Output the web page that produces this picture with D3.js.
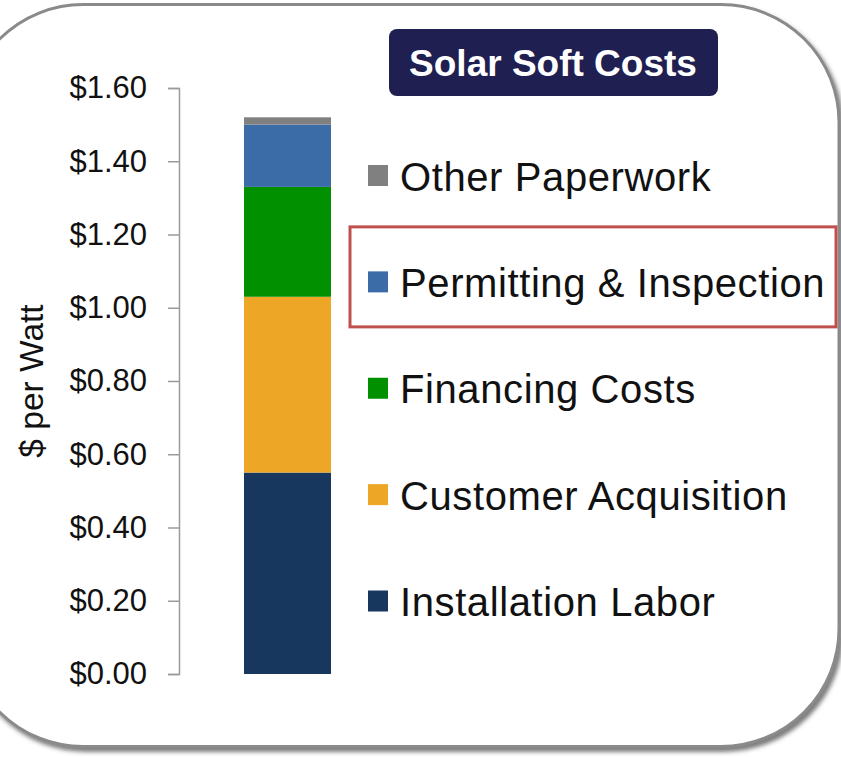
<!DOCTYPE html>
<html>
<head>
<meta charset="utf-8">
<script src="https://cdn.jsdelivr.net/npm/d3@7"></script>
<style>
  body { margin: 0; background: #fff; }
  svg { display: block; font-family: "Liberation Sans", Arial, sans-serif; }
  .axis .domain, .axis line { stroke: #9a9a9a; stroke-width: 1.5; }
  .axis text { font-size: 31px; fill: #111; }
</style>
</head>
<body>
<script>
// chart data
var categories = ["Installation Labor", "Customer Acquisition", "Financing Costs", "Permitting & Inspection", "Other Paperwork"];
var values = [0.55, 0.48, 0.30, 0.17, 0.02];
var colors = ["#18375e", "#eea626", "#009000", "#3b6ca8", "#808080"];
var tickValues = [0, 0.2, 0.4, 0.6, 0.8, 1.0, 1.2, 1.4, 1.6];
var title = "Solar Soft Costs";
var yTitle = "$ per Watt";
var highlighted = "Permitting & Inspection";

var w = 841, h = 757;

var svg = d3.select("body").append("svg")
    .attr("width", w)
    .attr("height", h);

// drop shadow for the rounded frame
var defs = svg.append("defs");
defs.append("filter")
    .attr("id", "shadow")
    .attr("x", "-10%").attr("y", "-10%")
    .attr("width", "120%").attr("height", "120%")
  .append("feDropShadow")
    .attr("dx", 3).attr("dy", 4)
    .attr("stdDeviation", 2)
    .attr("flood-color", "#444")
    .attr("flood-opacity", 0.7);

svg.append("rect")
    .attr("x", -35).attr("y", 4.5)
    .attr("width", 874).attr("height", 742)
    .attr("rx", 118).attr("ry", 118)
    .attr("fill", "#fff")
    .attr("stroke", "#8a8a8a")
    .attr("stroke-width", 3)
    .attr("filter", "url(#shadow)");

// stack the series
var stacked = [];
var acc = 0;
values.forEach(function(v, i){
    stacked.push({ name: categories[i], y0: acc, y1: acc + v, color: colors[i] });
    acc += v;
});

var y = d3.scaleLinear()
    .domain([0, 1.6])
    .range([674, 88]);

var x = d3.scaleBand()
    .domain(["Soft Costs"])
    .range([244, 331])
    .padding(0);

var yAxis = d3.axisLeft(y)
    .tickValues(tickValues)
    .tickSize(11)
    .tickSizeOuter(11)
    .tickPadding(21)
    .tickFormat(function(d){ return "$" + d.toFixed(2); });

svg.append("g")
    .attr("class", "axis")
    .attr("transform", "translate(179,0)")
    .call(yAxis);

svg.selectAll(".seg")
    .data(stacked)
    .enter()
    .append("rect")
    .attr("class", "seg")
    .attr("x", x("Soft Costs"))
    .attr("width", x.bandwidth())
    .attr("y", function(d){ return y(d.y1); })
    .attr("height", function(d){ return y(d.y0) - y(d.y1); })
    .attr("fill", function(d){ return d.color; });

// y axis title
svg.append("text")
    .attr("transform", "translate(43,381) rotate(-90)")
    .attr("text-anchor", "middle")
    .style("font-size", "33.5px")
    .attr("fill", "#111")
    .text(yTitle);

// title badge
svg.append("rect")
    .attr("x", 389).attr("y", 29)
    .attr("width", 329).attr("height", 67)
    .attr("rx", 8)
    .attr("fill", "#1f1f51");

svg.append("text")
    .attr("x", 553).attr("y", 76)
    .attr("text-anchor", "middle")
    .style("font-size", "37px")
    .style("font-weight", "bold")
    .attr("fill", "#fff")
    .text(title);

// legend, top item is the last series
var legendY = d3.scalePoint()
    .domain(categories.slice().reverse())
    .range([175.5, 601]);

var legend = svg.selectAll(".legend")
    .data(stacked.slice().reverse())
    .enter()
    .append("g")
    .attr("class", "legend")
    .attr("transform", function(d){ return "translate(0," + legendY(d.name) + ")"; });

legend.append("rect")
    .attr("x", 368).attr("y", -10.5)
    .attr("width", 20).attr("height", 21)
    .attr("fill", function(d){ return d.color; });

legend.append("text")
    .attr("x", 400).attr("y", 15)
    .style("font-size", "40px")
    .style("letter-spacing", "0.6px")
    .attr("fill", "#111")
    .text(function(d){ return d.name; });

// red highlight box around one legend entry
svg.append("rect")
    .attr("x", 350).attr("y", legendY(highlighted) - 55)
    .attr("width", 486).attr("height", 100)
    .attr("fill", "none")
    .attr("stroke", "#c0504d")
    .attr("stroke-width", 3);
</script>
</body>
</html>
